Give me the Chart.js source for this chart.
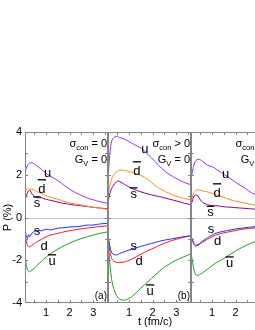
<!DOCTYPE html>
<html>
<head>
<meta charset="utf-8">
<script src="https://cdn.jsdelivr.net/npm/chart.js@4.4.1/dist/chart.umd.min.js"></script>
<style>
  html, body { margin: 0; padding: 0; width: 255px; height: 330px; overflow: hidden; background: #fff; }
  canvas { position: absolute; top: 0; }
</style>
</head>
<body>
<canvas id="pa" width="108" height="330" style="left:0px"></canvas>
<canvas id="pb" width="83" height="330" style="left:108px"></canvas>
<canvas id="pc" width="85" height="330" style="left:191px"></canvas>
<script>
// ---------- DATA ----------
const times = [0.1, 0.15, 0.2, 0.25, 0.3, 0.4, 0.5, 0.6, 0.8, 1.0, 1.2, 1.5, 1.8, 2.1, 2.4, 2.7, 3.0, 3.3, 3.63];

const yTickLabels = [4, 2, 0, -2, -4];
const xTickLabels = [1, 2, 3];
const yTickMarks = [-3, -2, -1, 0, 1, 2, 3];
const xTickMarks = [0.5, 1, 1.5, 2, 2.5, 3, 3.5];

// (a) sigma_con = 0, G_V = 0
const uA    = [2.1, 2.3, 2.42, 2.5, 2.55, 2.56, 2.5, 2.42, 2.25, 2.06, 1.92, 1.72, 1.48, 1.25, 1.08, 0.93, 0.83, 0.74, 0.66];
const dbarA = [1.2, 1.3, 1.33, 1.38, 1.32, 1.34, 1.28, 1.22, 1.12, 1.02, 0.95, 0.85, 0.75, 0.66, 0.6, 0.54, 0.48, 0.43, 0.38];
const sbarA = [0.75, 1.0, 1.15, 1.25, 1.28, 1.1, 0.98, 0.93, 0.92, 0.85, 0.8, 0.72, 0.65, 0.6, 0.56, 0.52, 0.48, 0.44, 0.41];
const sA    = [-0.6, -0.85, -0.98, -0.8, -0.9, -0.72, -0.65, -0.6, -0.62, -0.55, -0.58, -0.5, -0.47, -0.44, -0.42, -0.36, -0.35, -0.3, -0.27];
const dA    = [-0.75, -1.1, -1.3, -1.37, -1.38, -1.3, -1.22, -1.15, -1.02, -0.9, -0.82, -0.74, -0.66, -0.6, -0.54, -0.5, -0.46, -0.42, -0.39];
const ubarA = [-1.8, -2.2, -2.42, -2.52, -2.54, -2.45, -2.38, -2.25, -2.05, -1.85, -1.68, -1.48, -1.3, -1.15, -1.02, -0.92, -0.82, -0.74, -0.67];

// (b) sigma_con > 0, G_V = 0
const uB    = [1.6, 2.6, 3.2, 3.55, 3.68, 3.78, 3.8, 3.74, 3.67, 3.55, 3.42, 3.25, 2.95, 2.62, 2.28, 2.02, 1.83, 1.66, 1.53];
const dbarB = [0.85, 1.3, 1.6, 1.78, 1.92, 2.07, 2.17, 2.22, 2.2, 2.15, 2.08, 1.97, 1.78, 1.5, 1.3, 1.12, 1.0, 0.9, 0.82];
const sbarB = [0.6, 1.0, 1.2, 1.35, 1.45, 1.6, 1.7, 1.68, 1.55, 1.42, 1.32, 1.2, 1.1, 1.02, 0.95, 0.86, 0.78, 0.68, 0.6];
const sB    = [-0.75, -1.15, -1.45, -1.62, -1.7, -1.75, -1.74, -1.68, -1.6, -1.52, -1.45, -1.35, -1.26, -1.17, -1.08, -1.02, -0.96, -0.9, -0.85];
const dB    = [-0.9, -1.35, -1.7, -1.9, -2.0, -2.07, -2.1, -2.1, -2.08, -2.0, -1.9, -1.72, -1.55, -1.4, -1.25, -1.12, -1.02, -0.93, -0.86];
const ubarB = [-1.0, -1.8, -2.4, -2.85, -3.15, -3.5, -3.72, -3.83, -3.87, -3.78, -3.62, -3.3, -3.0, -2.7, -2.4, -2.18, -2.0, -1.85, -1.7];

// (c) sigma_con > 0, G_V > 0
const uC    = [1.75, 2.1, 2.35, 2.55, 2.65, 2.73, 2.7, 2.62, 2.45, 2.38, 2.24, 2.02, 1.8, 1.57, 1.37, 1.14, 1.0, 0.92, 0.85];
const dbarC = [0.75, 0.95, 1.1, 1.2, 1.25, 1.3, 1.28, 1.24, 1.2, 1.12, 1.05, 0.95, 0.82, 0.74, 0.67, 0.6, 0.55, 0.5, 0.46];
const sbarC = [0.6, 0.75, 0.92, 1.02, 1.06, 1.0, 0.82, 0.7, 0.6, 0.55, 0.55, 0.5, 0.48, 0.45, 0.43, 0.4, 0.38, 0.36, 0.34];
const sC    = [-0.82, -1.0, -1.15, -1.25, -1.29, -1.27, -1.18, -1.1, -0.95, -0.82, -0.72, -0.64, -0.58, -0.52, -0.48, -0.44, -0.42, -0.4, -0.38];
const dC    = [-0.87, -1.05, -1.2, -1.3, -1.34, -1.3, -1.22, -1.15, -1.02, -0.9, -0.8, -0.72, -0.65, -0.58, -0.53, -0.5, -0.47, -0.45, -0.43];
const ubarC = [-1.6, -2.0, -2.3, -2.55, -2.68, -2.7, -2.65, -2.58, -2.42, -2.25, -2.1, -1.92, -1.7, -1.5, -1.33, -1.18, -1.08, -1.0, -0.92];

// curve names: letter, overbar, anchor (t, P) in data units
const namesA = [["u", false, 1.06, 1.89], ["d", true, 0.82, 1.15], ["s", true, 0.61, 0.49],
                ["s", false, 0.61, -0.82], ["d", false, 0.91, -1.52], ["u", true, 1.25, -2.22]];
const namesB = [["u", false, 1.67, 3.02], ["d", true, 1.33, 1.99], ["s", true, 1.19, 0.91],
                ["s", false, 1.19, -1.52], ["d", false, 1.42, -2.22], ["u", true, 1.89, -3.63]];
const namesC = [["u", false, 1.57, 1.85], ["d", true, 1.21, 0.96], ["s", true, 0.93, 0.05],
                ["s", false, 0.95, -0.73], ["d", false, 1.23, -1.29], ["u", true, 1.74, -2.32]];

const colors = ["#9933ff", "#ff8c1a", "#8b008b", "#1a33ff", "#ff1a1a", "#229922"];
const FONT = '"Liberation Sans", Arial, sans-serif';

// ---------- DRAW HELPERS ----------
function drawName(ctx, letter, bar, cx, by) {
  ctx.font = "13px " + FONT;
  ctx.textAlign = "center";
  ctx.textBaseline = "alphabetic";
  ctx.fillText(letter, cx, by);
  if (bar) {
    const w = ctx.measureText(letter).width;
    const h = letter === "d" ? 12.5 : 9.5;
    ctx.fillRect(cx - w / 2 - 0.5, by - h - 1.3, w + 1, 1.3);
  }
}

function drawSubLabel(ctx, main, sub, rest, right, base) {
  const big = "11px " + FONT, small = "7.5px " + FONT;
  ctx.textBaseline = "alphabetic";
  ctx.textAlign = "left";
  ctx.font = big; const w1 = ctx.measureText(main).width; const w3 = ctx.measureText(rest).width;
  ctx.font = small; const w2 = ctx.measureText(sub).width;
  let x = right - (w1 + w2 + w3);
  ctx.font = big; ctx.fillText(main, x, base); x += w1;
  ctx.font = small; ctx.fillText(sub, x, base + 3); x += w2;
  ctx.font = big; ctx.fillText(rest, x, base);
}

function panelPlugin(p) {
  return {
    id: "panel" + p.tag,
    beforeDatasetsDraw(chart) {
      const { ctx, chartArea: a, scales: { y } } = chart;
      const y0 = Math.round(y.getPixelForValue(0)) + 0.5;
      ctx.save();
      ctx.strokeStyle = "#c4c4c4";
      ctx.lineWidth = 1;
      ctx.beginPath(); ctx.moveTo(a.left, y0); ctx.lineTo(a.right, y0); ctx.stroke();
      ctx.restore();
    },
    afterDatasetsDraw(chart) {
      const { ctx, chartArea: a, scales: { x, y } } = chart;
      ctx.save();
      // frame
      ctx.strokeStyle = "#858585";
      ctx.lineWidth = 1;
      ctx.strokeRect(a.left + 0.5, a.top + 0.5, a.right - a.left - 1, a.bottom - a.top - 1);
      // inward ticks
      ctx.beginPath();
      yTickMarks.forEach(v => {
        const py = Math.round(y.getPixelForValue(v)) + 0.5;
        ctx.moveTo(a.left, py); ctx.lineTo(a.left + 3, py);
        ctx.moveTo(a.right, py); ctx.lineTo(a.right - 3, py);
      });
      xTickMarks.forEach(v => {
        const px = Math.round(x.getPixelForValue(v)) + 0.5;
        ctx.moveTo(px, a.bottom); ctx.lineTo(px, a.bottom - 3);
        ctx.moveTo(px, a.top); ctx.lineTo(px, a.top + 3);
      });
      ctx.stroke();

      ctx.fillStyle = "#000";
      // tick labels
      ctx.font = "11px " + FONT;
      ctx.textAlign = "center";
      ctx.textBaseline = "middle";
      xTickLabels.forEach(v => ctx.fillText(String(v), x.getPixelForValue(v), a.bottom + 9.5));
      if (p.yLabels) {
        ctx.textAlign = "right";
        yTickLabels.forEach(v => ctx.fillText(String(v), a.left - 3, y.getPixelForValue(v)));
        ctx.save();
        ctx.translate(8, y.getPixelForValue(0));
        ctx.rotate(-Math.PI / 2);
        ctx.textAlign = "center";
        ctx.fillText("P (%)", 0, 0);
        ctx.restore();
      }
      if (p.xTitle) {
        ctx.textAlign = "center";
        ctx.fillText("t (fm/c)", a.left + 47, a.bottom + 19);
      }
      // condition labels
      drawSubLabel(ctx, "σ", "con", " " + p.sigma, a.right - 1, a.top + 15);
      drawSubLabel(ctx, "G", "V", " " + p.gv, a.right - 1, a.top + 31);
      // panel tag
      ctx.font = "10px " + FONT;
      ctx.textAlign = "right";
      ctx.textBaseline = "alphabetic";
      ctx.fillText(p.tag, a.right - 1, a.bottom - 4);
      // curve names
      p.names.forEach(([l, bar, tx, ty]) => drawName(ctx, l, bar, x.getPixelForValue(tx), y.getPixelForValue(ty)));
      ctx.restore();
    }
  };
}

function makePanel(id, series, padding, p) {
  new Chart(document.getElementById(id), {
    type: "line",
    data: {
      datasets: series.map((vals, i) => ({
        data: times.map((t, k) => ({ x: t, y: vals[k] })),
        borderColor: colors[i],
        borderWidth: 1,
        pointRadius: 0,
        fill: false,
        tension: 0.3
      }))
    },
    options: {
      responsive: false,
      animation: false,
      devicePixelRatio: 1,
      layout: { padding },
      plugins: { legend: { display: false }, tooltip: { enabled: false } },
      scales: {
        x: { type: "linear", min: 0.1, max: 3.63, display: false },
        y: { min: -4, max: 4, display: false }
      }
    },
    plugins: [panelPlugin(p)]
  });
}

makePanel("pa", [uA, dbarA, sbarA, sA, dA, ubarA], { left: 25, right: 0, top: 132, bottom: 27 },
  { tag: "(a)", sigma: "= 0", gv: "= 0", names: namesA, yLabels: true });
makePanel("pb", [uB, dbarB, sbarB, sB, dB, ubarB], { left: 0, right: 0, top: 132, bottom: 27 },
  { tag: "(b)", sigma: "> 0", gv: "= 0", names: namesB, xTitle: true });
makePanel("pc", [uC, dbarC, sbarC, sC, dC, ubarC], { left: 0, right: 2, top: 132, bottom: 27 },
  { tag: "(c)", sigma: "> 0", gv: "> 0", names: namesC });
</script>
</body>
</html>
